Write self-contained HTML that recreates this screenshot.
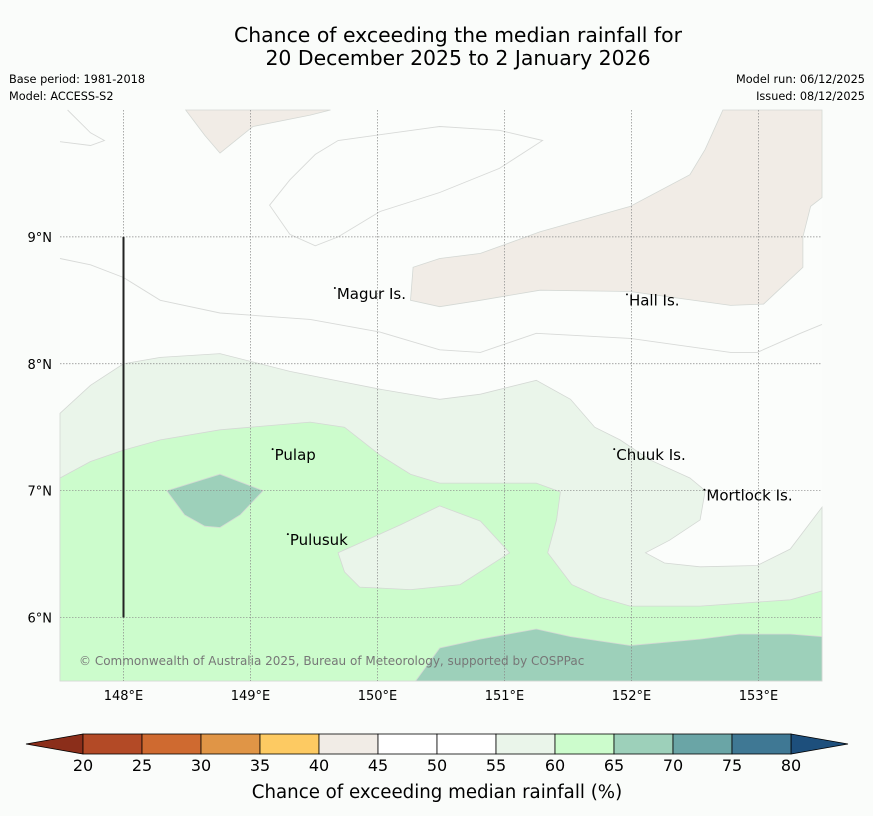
<!DOCTYPE html>
<html><head><meta charset="utf-8"><style>
body{margin:0;background:#fafcfa;}
svg{display:block;font-family:"DejaVu Sans","Liberation Sans",sans-serif;}
</style></head><body>
<svg id="chart" width="873" height="816" viewBox="0 0 873 816">
<rect x="0" y="0" width="873" height="816" fill="#fafcfa"/>
<text x="458" y="42" text-anchor="middle" font-size="20.4" fill="#000">Chance of exceeding the median rainfall for</text>
<text x="458" y="65" text-anchor="middle" font-size="20.4" fill="#000">20 December 2025 to 2 January 2026</text>
<text x="9" y="83" font-size="11.3">Base period: 1981-2018</text>
<text x="9" y="100" font-size="11.3">Model: ACCESS-S2</text>
<text x="865" y="83" font-size="11.3" text-anchor="end">Model run: 06/12/2025</text>
<text x="865" y="100" font-size="11.3" text-anchor="end">Issued: 08/12/2025</text>
<g id="map"></g>
<g id="cbar"></g>
<text x="437" y="798" text-anchor="middle" font-size="18.2">Chance of exceeding median rainfall (%)</text>
</svg>
<script>
const lonTicks=[148,149,150,151,152,153];
const latTicks=[6,7,8,9];
const cbLevels=[20,25,30,35,40,45,50,55,60,65,70,75,80];
const cbColors=["#b34a26","#cf6a30","#e09546","#fdca62","#f1ece6","#ffffff","#ffffff","#eaf5ea","#ccfccc","#9dd0ba","#6aa5a6","#3f7894"];
const cbUnder="#8b2e1a", cbOver="#1d4f7c";
const region5560=[[147.5,7.61],[147.74,7.83],[148.0,8.0],[148.29,8.05],[148.76,8.08],[149.31,7.94],[150.02,7.8],[150.49,7.72],[150.81,7.76],[151.25,7.87],[151.52,7.72],[151.71,7.5],[151.91,7.4],[152.15,7.24],[152.46,7.1],[152.58,7.0],[152.54,6.77],[152.3,6.61],[152.11,6.51],[152.26,6.43],[152.54,6.4],[152.99,6.41],[153.25,6.54],[153.5,6.87],[153.5,5.5],[147.5,5.5]];
const region4045a=[[148.49,10],[148.64,9.8],[148.76,9.66],[149.02,9.87],[149.47,9.96],[149.63,10]];
const region4045b=[[152.72,10],[153.5,10],[153.5,9.31],[153.41,9.24],[153.35,9.0],[153.35,8.76],[153.04,8.47],[152.78,8.46],[151.99,8.57],[151.28,8.58],[150.81,8.5],[150.49,8.45],[150.26,8.5],[150.28,8.76],[150.49,8.83],[150.81,8.87],[151.28,9.04],[151.99,9.24],[152.46,9.49],[152.58,9.69]];
const region6065=[[147.5,7.1],[147.74,7.23],[148.0,7.32],[148.29,7.4],[148.76,7.48],[149.47,7.54],[149.74,7.5],[150.02,7.28],[150.26,7.13],[150.49,7.06],[151.25,7.06],[151.44,6.99],[151.41,6.77],[151.34,6.51],[151.53,6.26],[151.75,6.16],[151.99,6.09],[152.54,6.09],[153.25,6.14],[153.5,6.21],[153.5,5.5],[147.5,5.5]];
const region5560island=[[149.69,6.51],[150.18,6.73],[150.49,6.88],[150.81,6.76],[151.04,6.51],[150.65,6.26],[150.26,6.22],[149.86,6.24],[149.74,6.36]];
const region6570a=[[150.3,5.5],[150.49,5.76],[150.81,5.83],[151.25,5.91],[151.52,5.85],[151.99,5.78],[152.54,5.83],[152.85,5.87],[153.25,5.87],[153.5,5.85],[153.5,5.5]];
const region6570b=[[148.34,7.0],[148.76,7.13],[149.1,7.0],[148.92,6.81],[148.76,6.71],[148.64,6.72],[148.48,6.81]];
const line1=[[147.5,9.75],[147.74,9.72],[147.85,9.76],[147.74,9.82],[147.56,10]];
const line2=[[147.5,8.83],[147.74,8.78],[148.0,8.68],[148.29,8.5],[148.76,8.4],[149.47,8.35],[150.02,8.25],[150.49,8.11],[150.81,8.09],[151.25,8.24],[151.99,8.2],[152.78,8.09],[152.99,8.09],[153.33,8.24],[153.5,8.31]];
const loop3=[[149.15,9.25],[149.31,9.45],[149.51,9.65],[149.69,9.76],[150.49,9.87],[150.96,9.84],[151.3,9.76],[150.96,9.54],[150.49,9.35],[150.02,9.2],[149.69,9.0],[149.51,8.93],[149.31,9.02]];
const places=[["Magur Is.",149.68,8.55],["Hall Is.",151.98,8.5],["Pulap",149.19,7.28],["Pulusuk",149.31,6.61],["Chuuk Is.",151.88,7.28],["Mortlock Is.",152.59,6.96]];

const X0=60,X1=822,Y0=110,Y1=681;
const xs=lon=>X0+(lon-147.5)/(153.5-147.5)*(X1-X0);
const ys=lat=>Y0+(10-lat)/(10-5.5)*(Y1-Y0);
const NS="http://www.w3.org/2000/svg";
const map=document.getElementById('map');
function mk(tag,attrs,parent){const e=document.createElementNS(NS,tag);for(const k in attrs)e.setAttribute(k,attrs[k]);(parent||map).appendChild(e);return e;}
const pts=a=>a.map(p=>xs(p[0]).toFixed(1)+","+ys(p[1]).toFixed(1)).join(" ");

let e=mk('rect',{x:X0,y:Y0,width:X1-X0,height:Y1-Y0,fill:"#fbfdfb"});


const polys=[[region5560,"#eaf5ea","region-55-60"],[region4045a,"#f1ece6","region-40-45-north"],[region4045b,"#f1ece6","region-40-45-northeast"],[region6065,"#ccfccc","region-60-65"],[region5560island,"#eaf5ea","region-55-60-pocket"],[region6570a,"#9dd0ba","region-65-70-south"],[region6570b,"#9dd0ba","region-65-70-west"]];
polys.forEach(p=>{e=mk('polygon',{points:pts(p[0]),fill:p[1],stroke:"#d4d8d4","stroke-width":0.8});

});
[[line1,"contour-50-a"],[line2,"contour-50-b"]].forEach(l=>{e=mk('polyline',{points:pts(l[0]),fill:"none",stroke:"#d8dad8","stroke-width":0.9});

});
e=mk('polygon',{points:pts(loop3),fill:"none",stroke:"#d8dad8","stroke-width":0.9});



lonTicks.forEach(t=>{e=mk('line',{x1:xs(t),x2:xs(t),y1:Y0,y2:Y1,stroke:"#888","stroke-width":0.7,"stroke-dasharray":"1.5,1.5"});


e=mk('text',{x:xs(t),y:700,"text-anchor":"middle","font-size":13});e.textContent=t+"°E";

});
latTicks.forEach(t=>{e=mk('line',{x1:X0,x2:X1,y1:ys(t),y2:ys(t),stroke:"#888","stroke-width":0.7,"stroke-dasharray":"1.5,1.5"});


e=mk('text',{x:52,y:ys(t)+5,"text-anchor":"end","font-size":13});e.textContent=t+"°N";

});
e=mk('line',{x1:xs(148),x2:xs(148),y1:ys(9),y2:ys(6),stroke:"#222","stroke-width":2});


places.forEach(p=>{e=mk('text',{x:xs(p[1]),y:ys(p[2])+5,"font-size":15});e.textContent=p[0];


e=mk('circle',{cx:xs(p[1])-2,cy:ys(p[2])-6,r:1,fill:"#000"});

});
e=mk('text',{x:79,y:665,"font-size":12,fill:"#777"});e.textContent="© Commonwealth of Australia 2025, Bureau of Meteorology, supported by COSPPac";



const cb=document.getElementById('cbar');
const C0=83,C1=791,CY=734,CH=20;
const cx=v=>C0+(v-20)/(80-20)*(C1-C0);
e=mk('polygon',{points:`${C0},${CY} 26,${CY+CH/2} ${C0},${CY+CH}`,fill:cbUnder,stroke:"#000","stroke-width":0.8},cb);


e=mk('polygon',{points:`${C1},${CY} 848,${CY+CH/2} ${C1},${CY+CH}`,fill:cbOver,stroke:"#000","stroke-width":0.8},cb);


cbColors.forEach((c,i)=>{e=mk('rect',{x:cx(cbLevels[i]),y:CY,width:cx(cbLevels[i+1])-cx(cbLevels[i]),height:CH,fill:c,stroke:"#000","stroke-width":0.8},cb);

});
cbLevels.forEach(v=>{e=mk('text',{x:cx(v),y:771,"text-anchor":"middle","font-size":16},cb);e.textContent=v;

});
</script>
</body></html>
